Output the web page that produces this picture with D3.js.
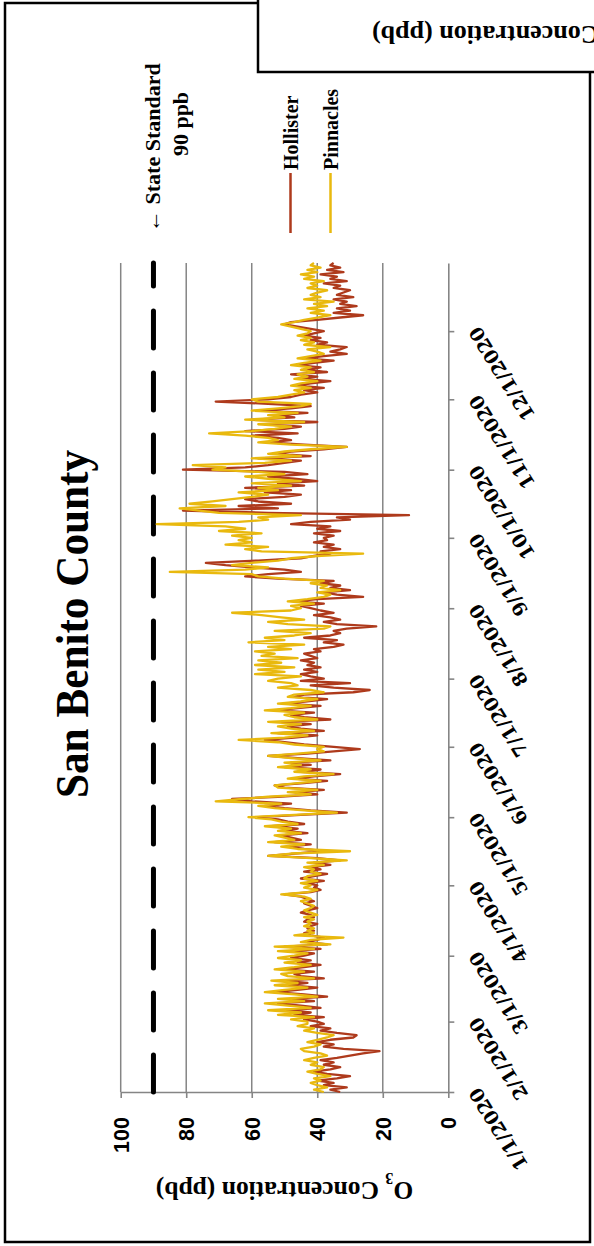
<!DOCTYPE html>
<html><head><meta charset="utf-8">
<script src="https://cdn.jsdelivr.net/npm/d3@7"></script>
<style>
html,body{margin:0;padding:0;background:#fff;}
svg{display:block;}
</style></head><body>
<svg id="chart" width="594" height="1246"></svg>
<script>
// ---------------- DATA ----------------
const chartTitle = "San Benito County";
const seriesNames = ["Hollister", "Pinnacles"];
const valueTicks = [0, 20, 40, 60, 80, 100];
const dateTickLabels = ["1/1/2020","2/1/2020","3/1/2020","4/1/2020","5/1/2020","6/1/2020",
                        "7/1/2020","8/1/2020","9/1/2020","10/1/2020","11/1/2020","12/1/2020"];
const stateStandard = 90;
const firstDay = "2020-01-01";

// daily O3 max (ppb), Jan 1 .. Dec 31 2020
const hollister = [
 33,36,31,38,35,40,34,30,37,41,36,33,38,35,39,34,30,26,21,32,38,35,40,36,29,28,34,39,36,42,38,
 40,44,38,47,42,50,39,45,52,41,48,37,44,53,46,40,49,43,51,38,45,47,41,50,44,39,46,42,48,
 44,41,48,39,50,37,43,40,38,42,44,41,43,42,40,44,43,41,42,45,43,40,42,44,41,43,45,50,42,39,41,
 40,43,38,45,41,37,44,39,42,36,41,33,40,55,47,38,44,49,42,53,45,48,51,43,50,46,54,44,49,52,
 58,45,31,42,50,56,48,60,66,52,40,46,38,50,53,44,37,47,41,33,45,39,50,42,48,36,46,55,43,35,27,
 35,44,50,56,47,40,52,38,45,49,42,51,36,44,48,41,53,46,39,50,43,37,47,44,29,24,35,42,30,45,
 38,42,45,40,44,39,43,41,45,40,42,44,39,41,35,32,38,34,44,36,33,35,31,22,34,38,33,36,41,35,39,
 42,45,38,47,40,26,34,38,30,36,33,39,35,52,62,55,45,50,60,68,74,58,45,41,36,39,33,38,35,41,37,
 38,35,41,33,40,36,48,42,30,34,12,55,81,52,64,48,58,62,50,45,56,48,62,44,52,40,47,55,43,50,
 81,62,55,50,45,58,42,52,48,38,31,44,55,48,52,60,46,62,50,45,56,40,60,47,52,43,58,48,42,55,71,
 55,48,45,40,44,38,46,42,36,45,40,48,37,43,39,46,41,35,44,38,31,36,33,31,40,37,42,39,44,41,
 38,42,46,50,48,40,33,26,35,30,34,28,33,31,35,29,34,32,30,35,33,38,31,36,34,39,32,37,33,36,35
];
const pinnacles = [
 38,41,37,40,42,39,41,36,40,43,39,38,42,40,44,41,37,39,44,45,41,39,43,40,37,35,40,44,41,46,43,
 43,48,41,52,45,55,42,49,56,44,52,40,47,56,50,43,53,46,54,41,49,51,44,53,47,42,50,45,52,
 47,43,52,41,53,36,45,42,32,47,41,43,41,44,42,43,41,44,40,42,44,42,41,43,45,42,44,51,43,40,44,
 42,45,40,44,43,39,42,41,44,38,43,31,42,55,48,30,46,51,44,55,47,50,53,45,52,48,56,46,51,54,
 61,47,34,44,53,58,51,71,63,55,42,49,40,52,53,46,39,49,44,35,47,42,52,45,50,39,48,55,46,38,40,
 38,47,52,64,50,43,54,41,48,52,45,55,40,47,50,44,56,48,42,52,45,40,49,47,38,42,52,46,48,55,
 52,45,59,50,58,47,59,51,58,46,57,53,59,48,55,44,61,50,56,47,42,53,38,36,49,55,44,51,57,66,48,
 45,48,41,49,43,38,36,40,33,39,37,42,38,50,58,60,85,62,55,66,60,52,48,40,26,57,62,55,68,60,64,
 60,66,57,70,62,68,89,64,55,58,45,70,76,82,68,79,72,66,60,55,64,52,58,48,60,45,55,62,50,58,
 72,68,78,56,48,60,45,55,50,42,31,48,58,52,55,62,73,60,53,48,58,44,62,50,55,46,60,52,45,42,58,
 60,52,48,44,47,42,48,45,40,47,43,46,41,45,42,48,44,39,46,42,38,40,43,36,44,41,45,42,46,43,
 42,45,48,51,47,44,40,36,42,38,43,37,41,35,44,39,42,40,37,43,40,42,38,44,41,45,40,43,39,42,41
];
const seriesColors = ["#AE3A1C", "#E9B90E"];

// ---------------- DRAW ----------------
const W = 594, H = 1246;
const serif = "'Liberation Serif','Times New Roman',serif";
const sans = "'Liberation Sans',Arial,sans-serif";
const svg = d3.select("#chart");
svg.append("rect").attr("width", W).attr("height", H).attr("fill", "#fff");

const plot = {left: 120.7, right: 448.3, top: 263, bottom: 1092};
const parse = d3.timeParse("%Y-%m-%d");
const start = parse(firstDay);
const dates = hollister.map((_, i) => d3.timeDay.offset(start, i));
const x = d3.scaleLinear().domain([0, 100]).range([plot.right, plot.left]);
const y = d3.scaleTime().domain([start, dates[dates.length - 1]]).range([plot.bottom, plot.top]);

// outer frame
svg.append("rect").attr("x", 5).attr("y", 3).attr("width", 585).attr("height", 1239)
  .attr("fill", "none").attr("stroke", "#000").attr("stroke-width", 2.5);
// overlapping box of previous chart (top right)
svg.append("rect").attr("x", 258).attr("y", -10).attr("width", 400).attr("height", 82)
  .attr("fill", "#fff").attr("stroke", "#000").attr("stroke-width", 2.5);
svg.append("text").attr("transform", "translate(372,26) rotate(180)")
  .attr("text-anchor", "end").attr("font-family", serif).attr("font-weight", "bold")
  .attr("font-size", 26)
  .call(t => { t.append("tspan").text("O");
               t.append("tspan").attr("baseline-shift", "sub").attr("font-size", 16).text("3");
               t.append("tspan").text(" Concentration (ppb)"); });

// gridlines
svg.append("g").selectAll("line").data(valueTicks.filter(v => v > 0)).join("line")
  .attr("x1", d => x(d)).attr("x2", d => x(d)).attr("y1", plot.top).attr("y2", plot.bottom)
  .attr("stroke", "#858585").attr("stroke-width", 1.5);

// value axis (bottom)
const gx = svg.append("g").attr("transform", `translate(0,${plot.bottom})`)
  .call(d3.axisBottom(x).tickValues(valueTicks).tickSize(6).tickSizeOuter(0));
gx.attr("font-family", sans).attr("font-size", 21.5).attr("font-weight", "bold");
gx.select(".domain").attr("stroke", "#858585").attr("stroke-width", 1.6);
gx.selectAll(".tick line").attr("stroke", "#858585").attr("stroke-width", 1.6);
gx.selectAll(".tick text").attr("x", 0).attr("y", 0).attr("dy", "0.35em")
  .attr("transform", "translate(0,25) rotate(-90)").attr("text-anchor", "end").attr("fill", "#000");

// date axis (right)
const monthTicks = d3.timeMonth.range(start, d3.timeDay.offset(dates[dates.length - 1], 1));
const gy = svg.append("g").attr("transform", `translate(${plot.right},0)`)
  .call(d3.axisRight(y).tickValues(monthTicks).tickFormat((d, i) => dateTickLabels[i])
        .tickSize(6).tickSizeOuter(0));
gy.attr("font-family", "'DejaVu Serif',serif").attr("font-size", 19).attr("font-weight", "bold");
gy.select(".domain").attr("stroke", "#858585").attr("stroke-width", 1.6);
gy.selectAll(".tick line").attr("stroke", "#858585").attr("stroke-width", 1.6);
gy.selectAll(".tick text").attr("x", 0).attr("y", 0).attr("dy", "0.35em")
  .attr("transform", "translate(25.5,-3) rotate(-122)").attr("text-anchor", "end").attr("fill", "#000");

// state standard dashed line
svg.append("line").attr("x1", x(stateStandard)).attr("x2", x(stateStandard))
  .attr("y1", plot.bottom).attr("y2", plot.top)
  .attr("stroke", "#000").attr("stroke-width", 5).attr("stroke-linecap", "round")
  .attr("stroke-dasharray", "37,25");

// series lines
const seriesData = [hollister, pinnacles];
const line = d3.line().x(d => x(d.v)).y(d => y(d.date));
seriesData.forEach((arr, k) => {
  svg.append("path").datum(arr.map((v, i) => ({v, date: dates[i]})))
    .attr("d", line).attr("fill", "none").attr("stroke", seriesColors[k])
    .attr("stroke-width", 2.3).attr("stroke-linejoin", "round");
});

// title
svg.append("text").attr("transform", "translate(88,624) rotate(-90)")
  .attr("text-anchor", "middle").attr("font-family", serif).attr("font-weight", "bold")
  .attr("font-size", 46).attr("textLength", 348).attr("lengthAdjust", "spacingAndGlyphs")
  .text(chartTitle);

// value axis title
svg.append("text").attr("transform", `translate(${(plot.left + plot.right) / 2},1182) rotate(180)`)
  .attr("text-anchor", "middle").attr("font-family", serif).attr("font-weight", "bold")
  .attr("font-size", 25.5)
  .call(t => { t.append("tspan").text("O");
               t.append("tspan").attr("baseline-shift", "sub").attr("font-size", 16).text("3");
               t.append("tspan").text(" Concentration (ppb)"); });

// legend
const legendX = [298, 338];
seriesNames.forEach((name, k) => {
  svg.append("line").attr("x1", legendX[k] - 7.5).attr("x2", legendX[k] - 7.5)
    .attr("y1", 233).attr("y2", 173).attr("stroke", seriesColors[k]).attr("stroke-width", 2.5);
  svg.append("text").attr("transform", `translate(${legendX[k]},170) rotate(-90)`)
    .attr("font-family", serif).attr("font-weight", "bold").attr("font-size", 20).text(name);
});

// state standard annotation
svg.append("text").attr("transform", "translate(152,232) rotate(-90)").attr("dy", "0.35em")
  .attr("font-family", serif).attr("font-weight", "bold").attr("font-size", 22)
  .text("\u2190 State Standard");
svg.append("text").attr("transform", "translate(180,124) rotate(-90)").attr("dy", "0.35em")
  .attr("text-anchor", "middle")
  .attr("font-family", serif).attr("font-weight", "bold").attr("font-size", 22)
  .text(stateStandard + " ppb");
</script>
</body></html>
